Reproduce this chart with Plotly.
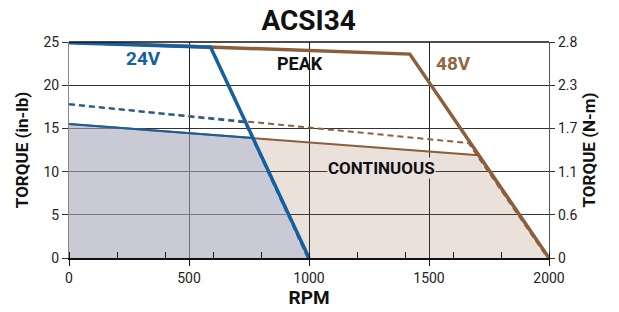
import plotly.graph_objects as go

# ---- data ----
rpm_peak_24 = [0, 590, 1000]
torque_peak_24 = [24.9, 24.4, 0]
rpm_cont_24 = [0, 765, 1000]
torque_cont_24 = [15.5, 13.9, 0]
rpm_dash_24 = [0, 733, 995]
torque_dash_24 = [17.8, 15.7, 0]

rpm_peak_48 = [0, 1420, 2000]
torque_peak_48 = [25.0, 23.6, 0]
rpm_cont_48 = [0, 1705, 2000]
torque_cont_48 = [15.5, 11.9, 0]
rpm_dash_48 = [0, 1665, 1995]
torque_dash_48 = [17.8, 13.3, 0]

inlb_ticks = [0, 5, 10, 15, 20, 25]
nm_labels = ["0", "0.6", "1.1", "1.7", "2.3", "2.8"]
rpm_ticks = [0, 500, 1000, 1500, 2000]

BLUE = "#1660a2"
BROWN = "#8c5e3c"
FONT = "Roboto, Liberation Sans, sans-serif"

fig = go.Figure()
# fills
fig.add_trace(go.Scatter(x=rpm_cont_48, y=torque_cont_48, mode="none", fill="tozeroy",
                         fillcolor="rgba(140,94,60,0.19)", hoverinfo="skip"))
fig.add_trace(go.Scatter(x=rpm_cont_24, y=torque_cont_24, mode="none", fill="tozeroy",
                         fillcolor="rgba(172,180,210,0.5)", hoverinfo="skip"))
# 48V lines
fig.add_trace(go.Scatter(x=rpm_dash_48, y=torque_dash_48, mode="lines",
                         line=dict(color=BROWN, width=2, dash="6px,4px")))
fig.add_trace(go.Scatter(x=rpm_cont_48, y=torque_cont_48, mode="lines",
                         line=dict(color=BROWN, width=2)))
fig.add_trace(go.Scatter(x=rpm_peak_48, y=torque_peak_48, mode="lines",
                         line=dict(color=BROWN, width=3.5)))
# 24V lines
fig.add_trace(go.Scatter(x=rpm_dash_24, y=torque_dash_24, mode="lines",
                         line=dict(color=BLUE, width=2, dash="6px,4px")))
fig.add_trace(go.Scatter(x=rpm_cont_24, y=torque_cont_24, mode="lines",
                         line=dict(color=BLUE, width=2)))
fig.add_trace(go.Scatter(x=rpm_peak_24, y=torque_peak_24, mode="lines",
                         line=dict(color=BLUE, width=3.5)))
# invisible trace for right axis
fig.add_trace(go.Scatter(x=[0], y=[0], yaxis="y2", mode="markers",
                         marker=dict(opacity=0), hoverinfo="skip"))

fig.update_layout(
    width=619, height=312,
    margin=dict(l=69, r=70, t=42, b=54),
    paper_bgcolor="white", plot_bgcolor="white",
    showlegend=False,
    font=dict(family=FONT, color="#222", size=14),
    title=dict(text="<b>ACSI34</b>", x=0.4992, xanchor="center", xref="paper",
               y=0.935, yanchor="middle", yref="container",
               font=dict(family=FONT, size=28, color="#111")),
    xaxis=dict(range=[0, 2000], tickvals=rpm_ticks, showgrid=True, gridcolor="#222",
               gridwidth=1.2, showline=True, linecolor="#111", linewidth=2,
               mirror=False, ticks="outside", ticklen=6, tickcolor="#111",
               minor=dict(dtick=200, ticks="inside", ticklen=6, tickcolor="#111", showgrid=False),
               zeroline=False, automargin=False,
               title=dict(text="<b>RPM</b>", standoff=0,
                          font=dict(family=FONT, size=19, color="#111"))),
    yaxis=dict(range=[0, 25], tickvals=inlb_ticks, showgrid=True, gridcolor="#333",
               gridwidth=1.2, showline=True, linecolor="#888", linewidth=1,
               ticks="outside", ticklen=6, tickcolor="#333", zeroline=False,
               automargin=False,
               title=dict(text="<b>TORQUE (in-lb)</b>", standoff=10,
                          font=dict(family=FONT, size=17, color="#111"))),
    yaxis2=dict(range=[0, 25], tickvals=inlb_ticks, ticktext=nm_labels,
                overlaying="y", side="right", showgrid=False, showline=True,
                linecolor="#555", linewidth=1.2, ticks="outside", ticklen=5,
                tickcolor="#333", zeroline=False, automargin=False,
                title=dict(text="<b>TORQUE (N-m)</b>", standoff=6,
                           font=dict(family=FONT, size=17, color="#111"))),
    shapes=[dict(type="line", xref="paper", yref="paper", x0=0, x1=1, y0=1, y1=1,
                 line=dict(color="#111", width=1.5))],
    annotations=[
        dict(x=310, y=23.1, text="<b>24V</b>", showarrow=False,
             font=dict(family=FONT, size=19, color=BLUE)),
        dict(x=962, y=22.5, text="<b>PEAK</b>", showarrow=False,
             font=dict(family=FONT, size=18, color="#111")),
        dict(x=1600, y=22.5, text="<b>48V</b>", showarrow=False,
             font=dict(family=FONT, size=19, color="#8f6645")),
        dict(x=1304, y=10.4, text="<b>CONTINUOUS</b>", showarrow=False,
             bgcolor="#e9e1dd", borderpad=0,
             font=dict(family=FONT, size=17, color="#111")),
    ],
)

fig.write_html("out.html", config={"displayModeBar": False},
               post_script="document.body.style.margin='0';")
